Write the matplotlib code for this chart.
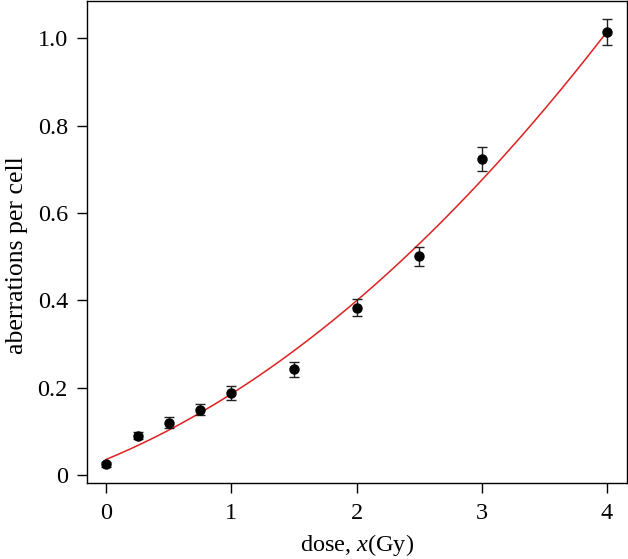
import numpy as np
import matplotlib.pyplot as plt

plt.rcParams['font.family'] = ['Liberation Serif', 'DejaVu Serif']
plt.rcParams['mathtext.fontset'] = 'custom'
plt.rcParams['mathtext.it'] = 'Liberation Serif:italic'
plt.rcParams['mathtext.rm'] = 'Liberation Serif'

# measured data (dose in Gy, aberrations per cell, standard error)
dose = [0, 0.25, 0.5, 0.75, 1, 1.5, 2, 2.5, 3, 4]
yield_ = [0.025, 0.090, 0.120, 0.150, 0.188, 0.242, 0.383, 0.501, 0.724, 1.014]
err = [0.006, 0.008, 0.012, 0.013, 0.015, 0.017, 0.019, 0.022, 0.0275, 0.030]

# linear-quadratic fit  Y = c + alpha*x + beta*x^2
c, alpha, beta = 0.036, 0.1185, 0.0315

fig = plt.figure(figsize=(6.28, 5.59), dpi=100)
ax = fig.add_axes([0.138, 0.136, 0.860, 0.862])

xx = np.linspace(0, 4, 300)
ax.plot(xx, c + alpha*xx + beta*xx**2, color='#e02020', lw=1.1)
ax.errorbar(dose, yield_, yerr=err, fmt='o', color='black', ecolor='#222222',
            ms=6.5, elinewidth=1, capsize=3.4, capthick=1)

ax.set_xlim(-0.157, 4.16)
ax.set_ylim(-0.018, 1.085)
ax.set_xticks([0, 1, 2, 3, 4])
ax.set_yticks([0, 0.2, 0.4, 0.6, 0.8, 1.0])
ax.set_yticklabels(['0', '0.2', '0.4', '0.6', '0.8', '1.0'])
ax.tick_params(direction='out', length=7, width=1, labelsize=17.5)
ax.tick_params(axis='x', pad=7.5)
ax.tick_params(axis='y', pad=6.5)
for s in ax.spines.values():
    s.set_linewidth(1)

ax.set_xlabel(r'dose, $x$(Gy)', fontsize=17.5, labelpad=6)
ax.set_ylabel('aberrations per cell', fontsize=18.5)
ax.yaxis.set_label_coords(-0.108, 0.473)

fig.savefig('out.png', dpi=100)
